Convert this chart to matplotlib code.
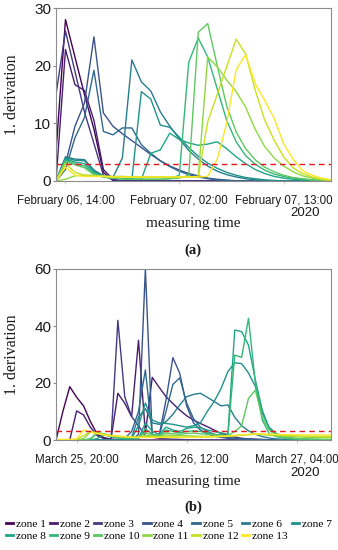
import numpy as np
import matplotlib
matplotlib.use("Agg")
import matplotlib.pyplot as plt

# ---------------- data: February (hourly, from Feb 06 13:00) ----------------
feb_hours = list(range(30))
feb_ticks = [1, 13, 24]
feb_tick_labels = ["February 06, 14:00", "February 07, 02:00", "February 07, 13:00"]

feb_z01 = [5, 28, 21.5, 15, 9, 1.5, 0.1] + [0] * 23
feb_z02 = [0, 22.8, 16.7, 15.7, 10.5, 2, 0.3] + [0] * 23
feb_z03 = [15, 26, 19, 12, 6.5, 1, 0.2] + [0] * 23
feb_z04 = [0, 3, 9.5, 13.5, 25, 11.8, 9.5, 8.2, 7.0, 5.8, 4.6, 3.5, 2.6, 1.9, 1.3, 0.9,
           0.5, 0.3, 0.15, 0.05] + [0] * 10
feb_z05 = [0, 2, 7.5, 11, 19.2, 8.6, 8.0, 9.2, 9.2, 6.3, 4.8, 3.5, 2.5, 1.7, 1.1, 0.7,
           0.4, 0.2, 0.1] + [0] * 11
feb_z06 = [0, 4.2, 3.8, 3.7, 1.9, 0.9, 0.6, 4, 21, 17.2, 15.6, 12, 9.5, 7.3, 5.3, 3.8,
           2.6, 1.7, 1.1, 0.7, 0.4, 0.2, 0.1] + [0] * 7
feb_z07 = [0, 4.0, 3.6, 3.5, 1.7, 0.8, 0.5, 0.4, 0.3, 15.5, 14.2, 9.7, 9.3, 7.6, 5.8,
           4.3, 3.1, 2.2, 1.5, 1.0, 0.6, 0.4, 0.2, 0.1] + [0] * 6
feb_z08 = [0, 3.8, 3.3, 3.0, 1.5, 0.7, 0.5, 0.4, 0.3, 0.3, 4.8, 5.4, 8.3, 7.2, 6.6, 6.2,
           6.4, 6.8, 5.6, 4.2, 3.0, 2.0, 1.3, 0.8, 0.5, 0.3, 0.2, 0.1, 0, 0]
feb_z09 = [0, 3.6, 3.0, 2.6, 1.3, 0.7, 0.5, 0.4, 0.3, 0.3, 0.3, 0.3, 0.4, 1.0, 20.6,
           24.8, 21.5, 16, 10.5, 6.8, 4.4, 2.9, 1.9, 1.2, 0.8, 0.5, 0.3, 0.2, 0.1, 0.05]
feb_z10 = [0, 3.4, 2.8, 2.3, 1.1, 0.7, 0.5, 0.4, 0.3, 0.3, 0.3, 0.3, 0.4, 0.5, 1.0,
           25.8, 27.3, 20, 13, 8.5, 5.6, 3.7, 2.4, 1.6, 1.0, 0.6, 0.4, 0.2, 0.1, 0.05]
feb_z11 = [0, 0.3, 0.9, 1.0, 1.0, 0.9, 0.8, 0.8, 0.7, 0.7, 0.7, 0.7, 0.7, 0.7, 0.7,
           0.8, 21.5, 19.8, 17.5, 15.5, 12.8, 9, 6, 4, 2.6, 1.6, 0.9, 0.5, 0.25, 0.1]
feb_z12 = [0, 3.0, 1.5, 1.0, 0.8, 0.8, 0.7, 0.7, 0.7, 0.7, 0.7, 0.7, 0.7, 0.7, 0.7,
           0.7, 10.3, 15, 19.8, 24.6, 22, 15.8, 10.6, 7.1, 4.2, 2.3, 1.3, 0.7, 0.3, 0.1]
feb_z13 = [0, 2.4, 1.0, 0.8, 0.8, 0.8, 0.7, 0.7, 0.7, 0.7, 0.7, 0.7, 0.7, 0.7, 0.7,
           0.7, 0.8, 3.8, 10, 19.3, 21.9, 16.9, 14, 10.9, 6.5, 3.8, 1.8, 1.0, 0.5, 0.2]

# ---------------- data: March (hourly, from Mar 25 17:00) ----------------
mar_hours = list(range(41))
mar_ticks = [3, 19, 35]
mar_tick_labels = ["March 25, 20:00", "March 26, 12:00", "March 27, 04:00"]

mar_z01 = [0, 10, 18.7, 15, 12, 6.5, 2.0, 0.8, 0.3, 0.2, 0.1] + [0] * 30
mar_z02 = [0, 0, 0, 10.2, 8.8, 4.5, 1.5, 0.5, 0.3, 16.4, 12.9, 8.2, 35, 2.3, 22, 18.5,
           15.2, 12.8, 10.5, 8.5, 7, 5.8, 4.7, 3.5, 2.3, 1.6, 1.0, 0.6, 0.4, 0.3, 0.2,
           0.1] + [0] * 9
mar_z03 = [0] * 8 + [0, 42, 15.2, 8.2, 5, 1.5, 1.0, 0.6, 0.4, 0.3, 0.2, 0.1] + [0] * 21
mar_z04 = [0] * 12 + [2, 60, 1.2, 1.5, 14, 28.9, 23.4, 12, 6, 3.5, 2.2, 1.4, 0.9, 0.6,
                      0.4, 0.3, 0.2, 0.1] + [0] * 11
mar_z05 = [0] * 10 + [0.5, 3, 10, 24.6, 2, 1.5, 10, 19.5, 21.8, 13, 7.5, 4.5, 3, 2, 1.3,
                      0.9, 0.6, 0.4, 0.3, 0.2, 0.1] + [0] * 10
mar_z06 = [0] * 11 + [1, 8, 11, 6, 5.5, 6.4, 9, 12.3, 15.2, 16.0, 16.4, 15, 13.5, 12,
                      12.3, 8, 5, 3.2, 2, 1.2, 0.7, 0.4, 0.2, 0.1, 0.05] + [0] * 5
mar_z07 = [0] * 11 + [0.5, 5, 13, 7, 6, 5.8, 5.5, 5, 4.5, 5, 6, 10, 13.5, 18, 24,
                      27.1, 26.8, 23.5, 18.8, 9.4, 4.5, 2.2, 1.2, 0.7, 0.4, 0.3, 0.2,
                      0.15, 0.1, 0.1]
mar_z08 = [0] * 6 + [0.5, 2.0, 1.2, 0.8, 0.6, 0.5, 0.5, 6, 3, 2, 4.5, 3.5, 3, 4, 4.5,
                     4.3, 3.5, 3, 2.5, 2, 38.6, 38, 33.3, 21, 10.5, 4.1, 2.3, 1.3, 0.8,
                     0.5, 0.3, 0.2, 0.15, 0.1, 0.1]
mar_z09 = [0] * 5 + [0.3, 2.4, 1.8, 1.2, 0.8, 0.6, 0.5, 0.5, 4, 2, 1.5, 3.5, 3, 2.5, 3,
                     3.2, 3, 2.5, 2, 1.8, 1.5, 29.8, 29, 42.7, 19.9, 7, 2.3, 1.2, 0.7,
                     0.4, 0.3, 0.2, 0.15, 0.1, 0.1, 0.1]
mar_z10 = [0] * 5 + [0.5, 2.6, 2.2, 1.5, 1.1, 0.9, 0.8, 0.8, 2.5, 1.8, 1.5, 2.5, 2.2, 2,
                     2.3, 2.4, 2.2, 2, 1.8, 1.6, 1.5, 3, 5, 14.6, 17.5, 8, 3.5, 1.8, 1.0,
                     0.7, 0.5, 0.4, 0.3, 0.3, 0.2, 0.2]
mar_z11 = [0] * 4 + [0.5, 2.8, 2.4, 1.8, 1.4, 1.2, 1.1, 1.0, 1.0, 1.6, 1.4, 1.2, 1.8, 1.6,
                     1.5, 1.5, 1.4, 1.3, 1.3, 1.3, 1.3, 1.4, 1.5, 1.7, 1.9, 2.0, 1.9, 1.7,
                     1.5, 1.3, 1.2, 1.1, 1.0, 0.9, 0.9, 0.8, 0.8]
mar_z12 = [0, 0, 0, 0.3, 1.5, 3.0, 2.5, 2.0, 1.6, 1.4, 1.2, 1.1, 1.0, 1.1, 1.1, 1.0, 1.1,
           1.1, 1.0, 1.0, 1.0, 1.0, 1.0, 1.1, 1.2, 1.3, 1.5, 1.7, 1.9, 2.0, 2.0, 1.9,
           1.8, 1.7, 1.6, 1.5, 1.4, 1.3, 1.3, 1.2, 1.2]
mar_z13 = [0.2, 0.2, 0.2, 0.3, 3.5, 2.8, 2.2, 1.8, 1.5, 1.3, 1.1, 1.0, 0.9, 0.9, 0.9, 0.9,
           0.9, 0.9, 0.9, 0.9, 0.9, 1.0, 1.1, 1.2, 1.3, 1.4, 1.6, 1.8, 2.0, 2.1, 2.1,
           2.0, 2.0, 1.9, 1.9, 1.8, 1.8, 1.8, 1.8, 1.75, 1.75]

zone_names = ["zone %d" % i for i in range(1, 14)]
threshold = 3

feb_series = [feb_z01, feb_z02, feb_z03, feb_z04, feb_z05, feb_z06, feb_z07,
              feb_z08, feb_z09, feb_z10, feb_z11, feb_z12, feb_z13]
mar_series = [mar_z01, mar_z02, mar_z03, mar_z04, mar_z05, mar_z06, mar_z07,
              mar_z08, mar_z09, mar_z10, mar_z11, mar_z12, mar_z13]

colors = plt.cm.viridis(np.linspace(0, 1, 13))
SERIF = ["Liberation Serif", "DejaVu Serif"]
SANS = ["Liberation Sans", "DejaVu Sans"]

fig = plt.figure(figsize=(3.38, 5.5), dpi=100)
W, H = 338.0, 550.0


def make_axes(left, right, top, bottom):
    return fig.add_axes([left / W, 1 - bottom / H, (right - left) / W, (bottom - top) / H])


ax1 = make_axes(56, 331, 8, 181)
ax2 = make_axes(56, 331, 269, 440)


def style(ax, hours, series, ymax, yticks, xticks, xlabels):
    handles = []
    for s, c, name in zip(series, colors, zone_names):
        h, = ax.plot(hours, s, color=c, lw=1.0, label=name)
        handles.append(h)
    ax.axhline(threshold, color="#e8141c", lw=1.0, ls=(0, (4, 3)))
    ax.set_xlim(hours[0], hours[-1])
    ax.set_ylim(0, ymax)
    ax.set_yticks(yticks)
    ax.set_xticks(xticks)
    ax.set_xticklabels(xlabels)
    for sp in ax.spines.values():
        sp.set_color("#8c8c8c")
        sp.set_linewidth(0.8)
    ax.tick_params(axis="y", length=2, color="#8c8c8c", pad=1.5, labelsize=11)
    ax.tick_params(axis="x", length=2, color="#cccccc", pad=8, labelsize=8.3)
    for lab in ax.get_xticklabels() + ax.get_yticklabels():
        lab.set_family(SANS)
        lab.set_color("#1a1a1a")
    return handles


handles = style(ax1, feb_hours, feb_series, 30, [0, 10, 20, 30], feb_ticks, feb_tick_labels)
style(ax2, mar_hours, mar_series, 60, [0, 20, 40, 60], mar_ticks, mar_tick_labels)


def ftext(x, y, s, **kw):
    fig.text(x / W, 1 - y / H, s, ha="center", va="center", **kw)


for (yd, ym, yc, yl, tag) in [(95, 213, 223, 250, "(a)"), (355, 473, 482, 507, "(b)")]:
    ftext(12.5, yd, "1. derivation", rotation=90, family=SERIF, fontsize=11.5, color="#1a1a1a")
    ftext(305, ym, "2020", family=SANS, fontsize=9.5, color="#1a1a1a")
    ftext(193, yc, "measuring time", family=SERIF, fontsize=11, color="#1a1a1a")
    ftext(193, yl, tag, family=SERIF, fontsize=10.5, fontweight="bold", color="#1a1a1a")

order = [0, 7, 1, 8, 2, 9, 3, 10, 4, 11, 5, 12, 6]
leg = fig.legend([handles[i] for i in order], [zone_names[i] for i in order],
                 loc="upper left", bbox_to_anchor=(6 / W, 1 - 519 / H), ncol=7,
                 frameon=False, borderpad=0, borderaxespad=0, handlelength=0.65,
                 handletextpad=0.25, columnspacing=0.32, labelspacing=0.15,
                 prop={"family": SERIF, "size": 8.2})
for ln in leg.get_lines():
    ln.set_linewidth(2.0)

fig.savefig("out.png", dpi=100)
